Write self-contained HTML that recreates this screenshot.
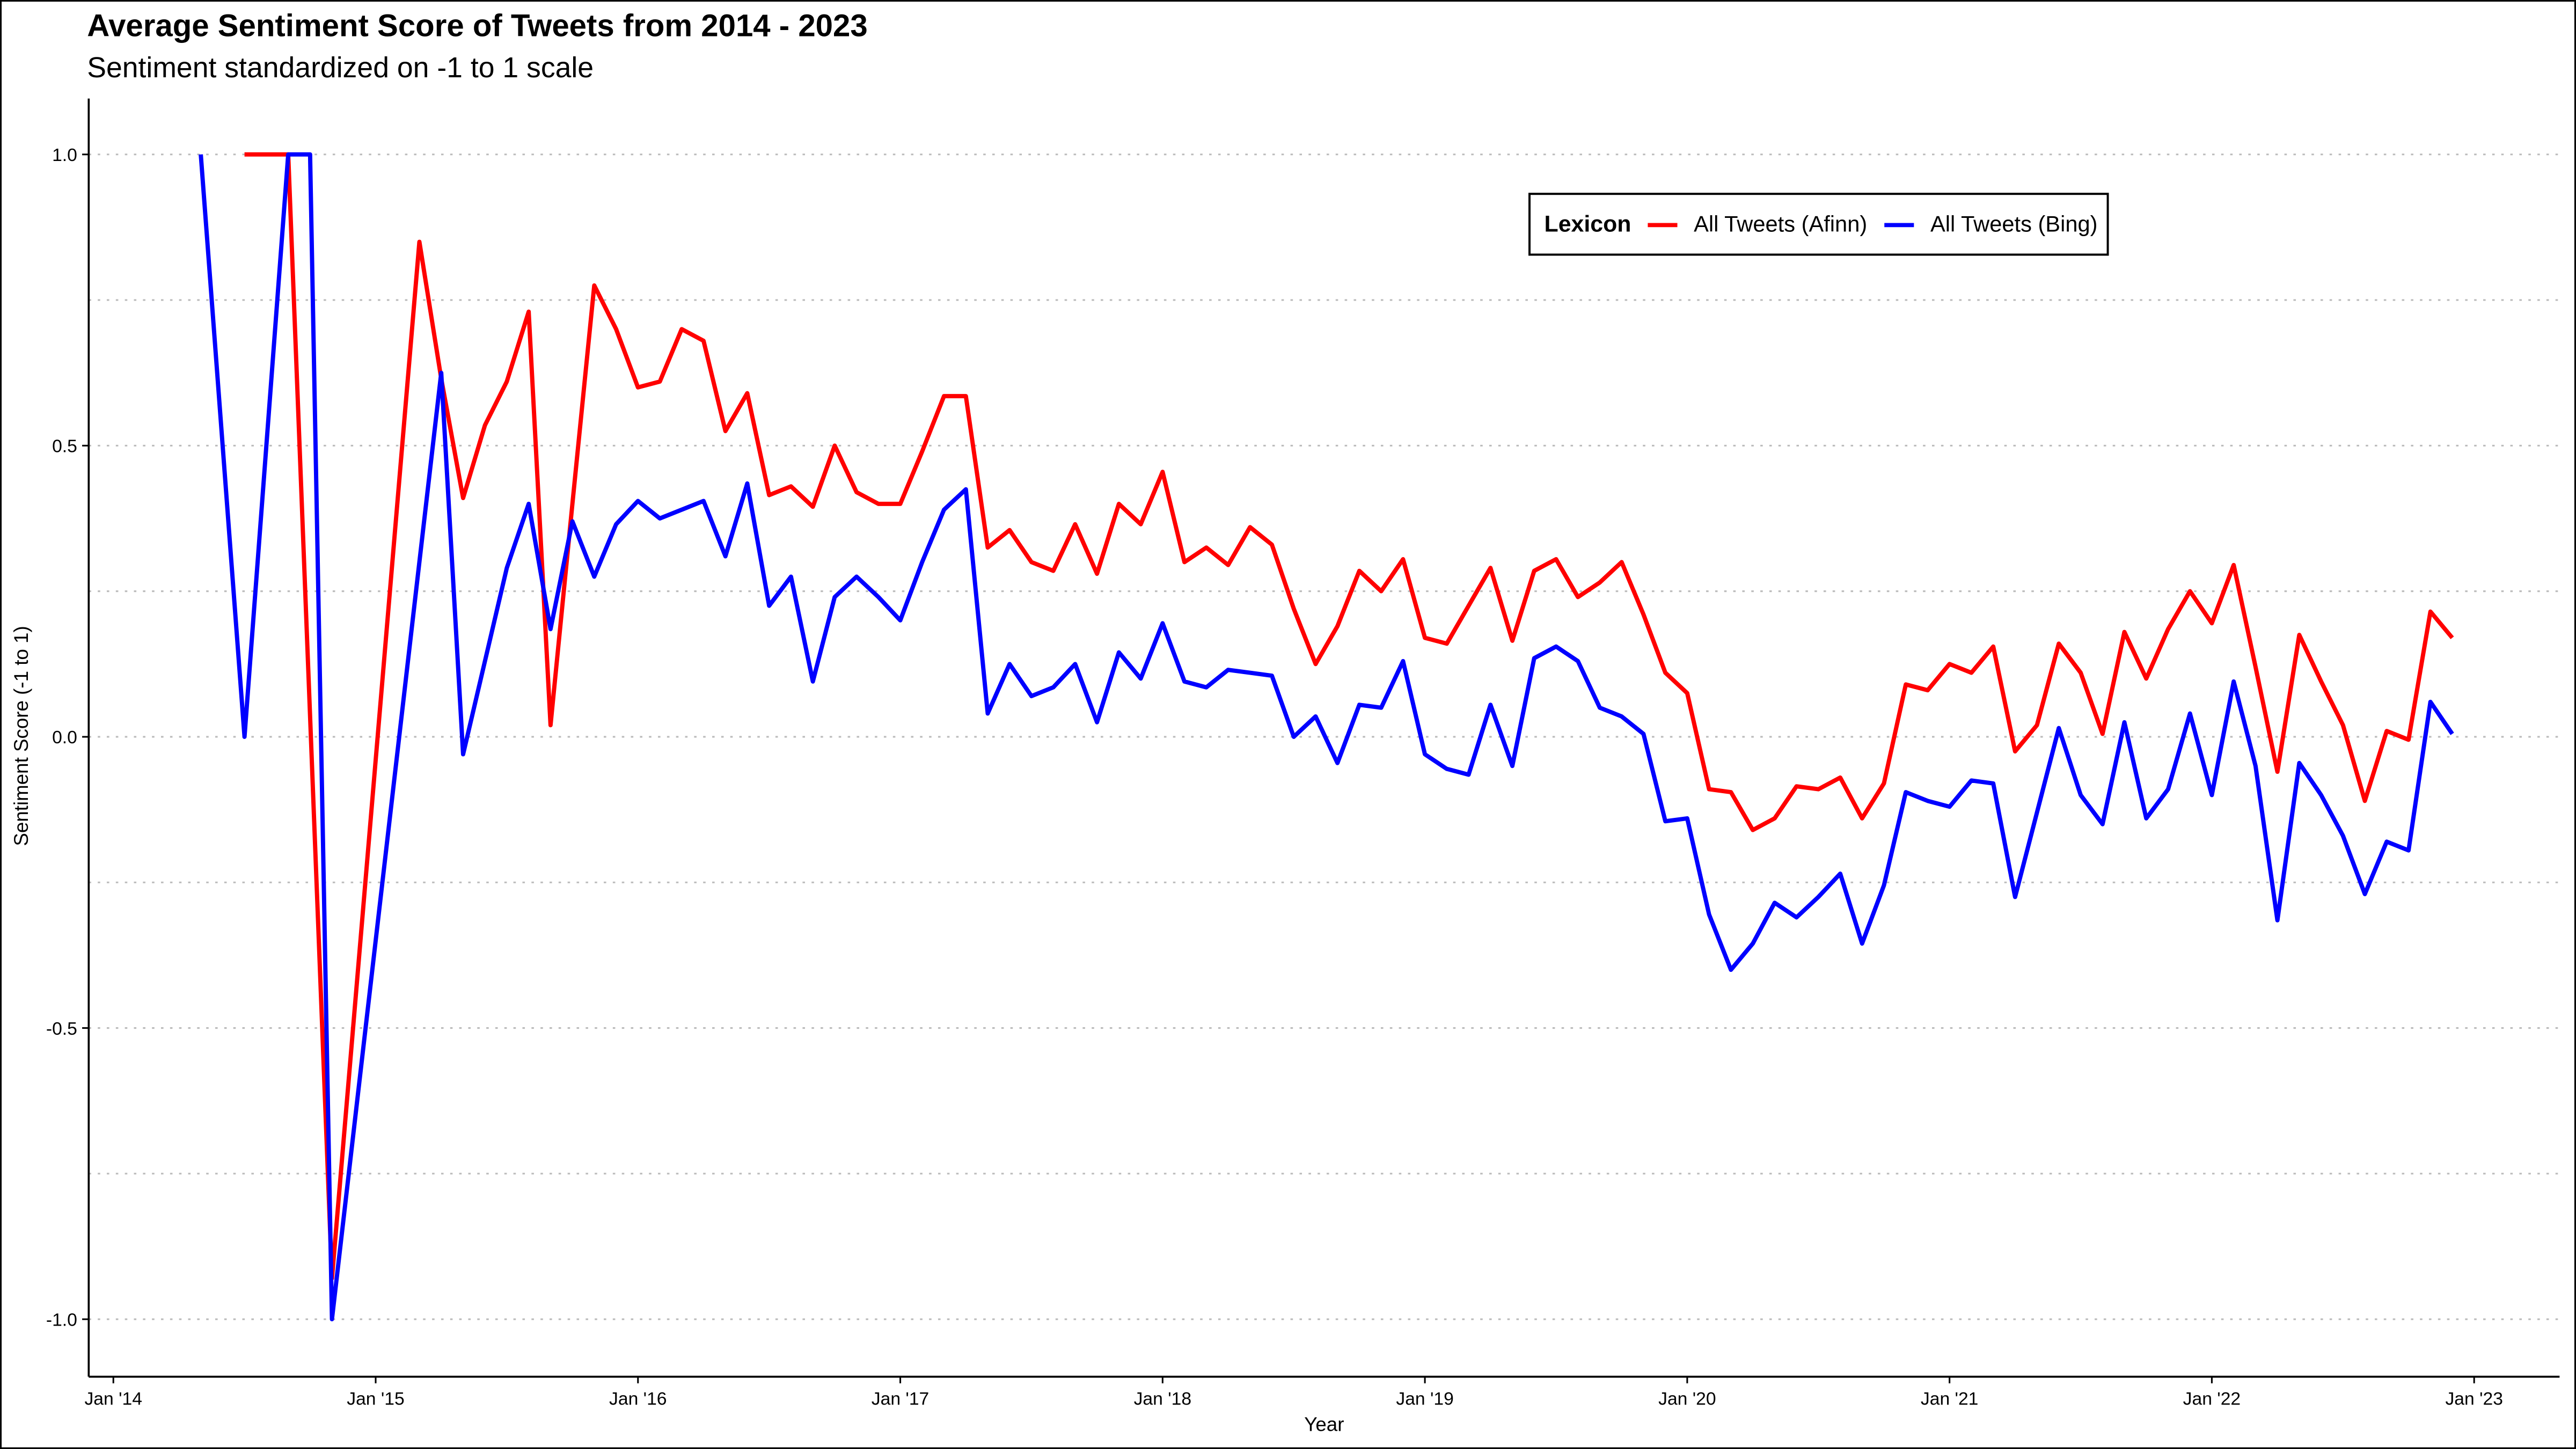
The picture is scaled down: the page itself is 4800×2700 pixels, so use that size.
<!DOCTYPE html>
<html><head><meta charset="utf-8"><style>html,body{margin:0;padding:0;background:#fff}svg{display:block}</style></head>
<body>
<svg id="chart" width="4800" height="2700" viewBox="0 0 1568 882" xmlns="http://www.w3.org/2000/svg" font-family="Liberation Sans, Arial, sans-serif">
<rect x="0.5" y="0.5" width="1567" height="881" fill="#fff" stroke="#000" stroke-width="1"/>
<text x="53" y="22" font-size="19" font-weight="bold">Average Sentiment Score of Tweets from 2014 - 2023</text>
<text x="53" y="47" font-size="17.5">Sentiment standardized on -1 to 1 scale</text>
<g id="grid"></g>
<g id="axes"></g>
<g id="series"></g>
<text x="806" y="871" font-size="12" text-anchor="middle">Year</text>
<text transform="translate(17,448) rotate(-90)" font-size="12" text-anchor="middle">Sentiment Score (-1 to 1)</text>
<g>
<rect x="931" y="118" width="352" height="37" fill="#fff" stroke="#000" stroke-width="1.3"/>
<text x="940" y="141" font-size="14" font-weight="bold">Lexicon</text>
<line x1="1003" y1="137" x2="1021" y2="137" stroke="#ff0000" stroke-width="2.5"/>
<text x="1031" y="141" font-size="13.6">All Tweets (Afinn)</text>
<line x1="1147" y1="137" x2="1165" y2="137" stroke="#0000ff" stroke-width="2.5"/>
<text x="1175" y="141" font-size="13.6">All Tweets (Bing)</text>
</g>
</svg>
<script>
const startYear = 2014;
const yTicks = [-1.0, -0.5, 0.0, 0.5, 1.0];
const yTickLabels = ["-1.0", "-0.5", "0.0", "0.5", "1.0"];
const yMinor = [-0.75, -0.25, 0.25, 0.75];
const xTickLabels = ["Jan '14","Jan '15","Jan '16","Jan '17","Jan '18","Jan '19","Jan '20","Jan '21","Jan '22","Jan '23"];
const afinnStart = 15;
const afinnHead = [null,null,null,null,null,null,1,1,1,null,-0.93,null,null,null,0.85];
const afinnRest = [0.615,0.41,0.535,0.61,0.73,0.02,0.4,0.775,0.7,0.6,0.61,0.7,0.68,0.525,0.59,0.415,0.43,0.395,0.5,0.42,0.4,0.4,0.49,0.585,0.585,0.325,0.355,0.3,0.285,0.365,0.28,0.4,0.365,0.455,0.3,0.325,0.295,0.36,0.33,0.22,0.125,0.19,0.285,0.25,0.305,0.17,0.16,0.225,0.29,0.165,0.285,0.305,0.24,0.265,0.3,0.21,0.11,0.075,-0.09,-0.095,-0.16,-0.14,-0.085,-0.09,-0.07,-0.14,-0.08,0.09,0.08,0.125,0.11,0.155,-0.025,0.02,0.16,0.11,0.005,0.18,0.1,0.185,0.25,0.195,0.295,0.12,-0.06,0.175,0.095,0.02,-0.11,0.01,-0.005,0.215,0.17];
const bingHead = [null,null,null,null,1,null,0,null,1,1,-1,null,null,null,null,0.625];
const bingRest = [-0.03,0.13,0.29,0.4,0.185,0.37,0.275,0.365,0.405,0.375,0.39,0.405,0.31,0.435,0.225,0.275,0.095,0.24,0.275,0.24,0.2,0.3,0.39,0.425,0.04,0.125,0.07,0.085,0.125,0.025,0.145,0.1,0.195,0.095,0.085,0.115,0.11,0.105,0.0,0.035,-0.045,0.055,0.05,0.13,-0.03,-0.055,-0.065,0.055,-0.05,0.135,0.155,0.13,0.05,0.035,0.005,-0.145,-0.14,-0.305,-0.4,-0.355,-0.285,-0.31,-0.275,-0.235,-0.355,-0.255,-0.095,-0.11,-0.12,-0.075,-0.08,-0.275,-0.13,0.015,-0.1,-0.15,0.025,-0.14,-0.09,0.04,-0.1,0.095,-0.05,-0.315,-0.045,-0.1,-0.17,-0.27,-0.18,-0.195,0.06,0.005];

const afinn = afinnHead.concat(afinnRest);
const bing = bingHead.concat(bingRest);
const NS = "http://www.w3.org/2000/svg";
const L = 54, R = 1558, T = 60, B = 838;
function xs(m){ return 69 + m * (1506 - 69) / 108; }
function ys(v){ return 448.5 - v * 354.5; }
function mk(tag, attrs, parent){ const e = document.createElementNS(NS, tag); for (const k in attrs) e.setAttribute(k, attrs[k]); parent.appendChild(e); return e; }
const grid = document.getElementById('grid'), axes = document.getElementById('axes'), series = document.getElementById('series');
yTicks.concat(yMinor).forEach(v => {
  const g = mk('line', {x1:L, x2:R, y1:ys(v), y2:ys(v), stroke:'#bbb', 'stroke-width':1, 'stroke-dasharray':'1.5,4'}, grid);
  
  
});
const ya = mk('line', {x1:L, x2:L, y1:T, y2:B, stroke:'#000', 'stroke-width':1.2}, axes);


const xa = mk('line', {x1:L, x2:R, y1:B, y2:B, stroke:'#000', 'stroke-width':1.2}, axes);


yTicks.forEach((v, i) => {
  const t = mk('line', {x1:L-4, x2:L, y1:ys(v), y2:ys(v), stroke:'#000', 'stroke-width':1}, axes);
  
  
  const tx = mk('text', {x:47, y:ys(v)+4, 'font-size':11, 'text-anchor':'end'}, axes);
  tx.textContent = yTickLabels[i];
  
  
});
xTickLabels.forEach((lab, i) => {
  const x = xs(i * 12);
  const t = mk('line', {x1:x, x2:x, y1:B, y2:B+4, stroke:'#000', 'stroke-width':1}, axes);
  
  
  const tx = mk('text', {x:x, y:855, 'font-size':11, 'text-anchor':'middle'}, axes);
  tx.textContent = lab;
  
  
});
function draw(vals, color, name){
  const pts = [];
  vals.forEach((v, i) => { if (v !== null) pts.push(xs(i).toFixed(2) + ',' + ys(v).toFixed(2)); });
  const p = mk('polyline', {points:pts.join(' '), fill:'none', stroke:color, 'stroke-width':2.6, 'stroke-linejoin':'round'}, series);
  
  
}
draw(afinn, '#ff0000', 'line-afinn');
draw(bing, '#0000ff', 'line-bing');
</script>
</body></html>
